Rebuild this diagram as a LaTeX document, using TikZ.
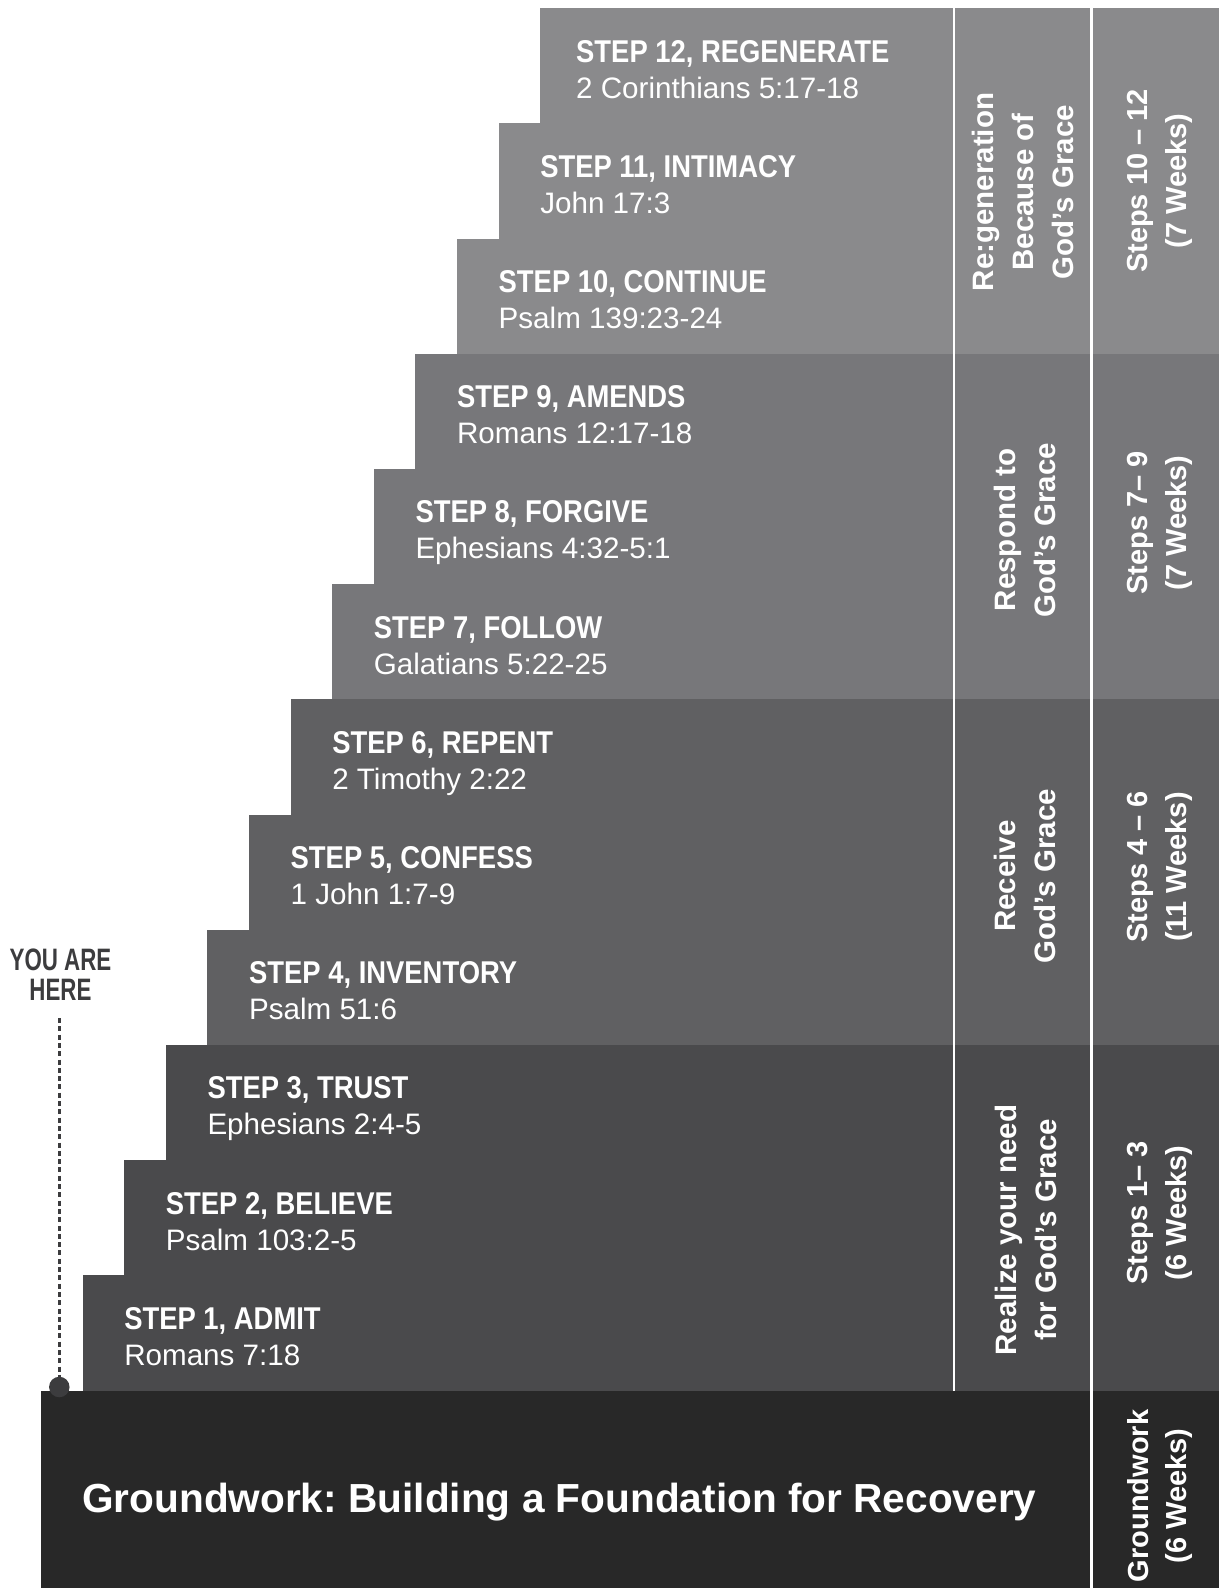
\documentclass[tikz,border=0pt]{standalone}
\usepackage{fontspec}
\setmainfont{Liberation Sans}
\newfontfamily\condfont[FakeStretch=0.87]{Liberation Sans}
\newfontfamily\youfont[FakeStretch=0.72]{Liberation Sans}
\definecolor{cA}{HTML}{8A8A8C}
\definecolor{cB}{HTML}{77777A}
\definecolor{cC}{HTML}{606062}
\definecolor{cD}{HTML}{4A4A4C}
\definecolor{cG}{HTML}{282828}
\definecolor{cY}{HTML}{3C3C3E}
\frenchspacing
\tikzset{
  titletext/.style={inner sep=0, anchor=base west, text=white,
    font=\condfont\bfseries\fontsize{31.5bp}{32bp}\selectfont},
  reftext/.style={inner sep=0, anchor=base west, text=white,
    font=\fontsize{29.6bp}{30bp}\selectfont},
  coltext/.style={inner sep=0, text=white, align=center, rotate=90,
    font=\bfseries\fontsize{29.5bp}{40bp}\selectfont},
  weektext/.style={inner sep=0, text=white, align=center, rotate=90,
    font=\bfseries\fontsize{29bp}{38.5bp}\selectfont},
  youtext/.style={inner sep=0, anchor=base, text=cY,
    font=\youfont\bfseries\fontsize{31bp}{31bp}\selectfont},
  sepline/.style={white, line width=2.8bp},
  dotline/.style={cY, line width=2.7bp, dash pattern=on 5bp off 3.3bp},
}
\begin{document}
\begin{tikzpicture}[x=1bp, y=-1bp]
\useasboundingbox (0,0) rectangle (1219,1588);
% stair rows
\foreach \k in {1,2,3}
  \fill[cD] ({82.5+(\k-1)*41.6},{1390.5-\k*115.2}) rectangle (1219,{1390.5-(\k-1)*115.2});
\foreach \k in {4,5,6}
  \fill[cC] ({82.5+(\k-1)*41.6},{1390.5-\k*115.2}) rectangle (1219,{1390.5-(\k-1)*115.2});
\foreach \k in {7,8,9}
  \fill[cB] ({82.5+(\k-1)*41.6},{1390.5-\k*115.2}) rectangle (1219,{1390.5-(\k-1)*115.2});
\foreach \k in {10,11,12}
  \fill[cA] ({82.5+(\k-1)*41.6},{1390.5-\k*115.2}) rectangle (1219,{1390.5-(\k-1)*115.2});
% groundwork
\fill[cG] (40.5,1390.5) rectangle (1219,1588);
% separators
\draw[sepline] (954,8.1) -- (954,1390.5);
\draw[sepline] (1091.8,8.1) -- (1091.8,1588);
% step texts
\foreach \k/\t/\r in {1/{STEP 1, ADMIT}/{Romans 7:18},
  2/{STEP 2, BELIEVE}/{Psalm 103:2-5},
  3/{STEP 3, TRUST}/{Ephesians 2:4-5},
  4/{STEP 4, INVENTORY}/{Psalm 51:6},
  5/{STEP 5, CONFESS}/{1 John 1:7-9},
  6/{STEP 6, REPENT}/{2 Timothy 2:22},
  7/{STEP 7, FOLLOW}/{Galatians 5:22-25},
  8/{STEP 8, FORGIVE}/{Ephesians 4:32-5:1},
  9/{STEP 9, AMENDS}/{Romans 12:17-18},
  10/{STEP 10, CONTINUE}/{Psalm 139:23-24},
  11/{STEP 11, INTIMACY}/{John 17:3}}{
  \node[titletext] (t\k) at ({82.5+\k*41.6},{1390.5-\k*115.2+54}) {\t};
  \node[reftext] (r\k) at ({82.5+\k*41.6},{1390.5-\k*115.2+90}) {\r};
}
\node[titletext] (t12) at (576,62.1) {STEP 12, REGENERATE};
\node[reftext] (r12) at (576,98.1) {2 Corinthians 5:17-18};
% column texts
\node[coltext] (phase4) at (1023,192) {Re:generation\\Because of\\God’s Grace};
\node[coltext] (phase3) at (1025,530) {Respond to\\God’s Grace};
\node[coltext] (phase2) at (1025,876) {Receive\\God’s Grace};
\node[coltext] (phase1) at (1026,1230) {Realize your need\\for God’s Grace};
\node[weektext] (wk4) at (1160,181) {Steps 10 – 12\\(7 Weeks)};
\node[weektext] (wk3) at (1160,523) {Steps 7– 9\\(7 Weeks)};
\node[weektext] (wk2) at (1160,867) {Steps 4 – 6\\(11 Weeks)};
\node[weektext] (wk1) at (1160,1213) {Steps 1– 3\\(6 Weeks)};
\node[weektext] (wk0) at (1160,1496) {Groundwork\\(6 Weeks)};
% groundwork title
\node[inner sep=0, anchor=base west, text=white,
  font=\bfseries\fontsize{40.6bp}{42bp}\selectfont] (ground) at (82,1512.7)
  {Groundwork: Building a Foundation for Recovery};
% you are here
\node[youtext] (you) at (60.5,970.7) {YOU ARE};
\node[youtext] (here) at (60.5,1000.7) {HERE};
\coordinate (dotstart) at (59.3,1018);
\node[circle, fill=cY, minimum size=20.5bp, inner sep=0] (dot) at (59.3,1387) {};
\draw[dotline] (dotstart) -- (dot.center);
\end{tikzpicture}
\end{document}
